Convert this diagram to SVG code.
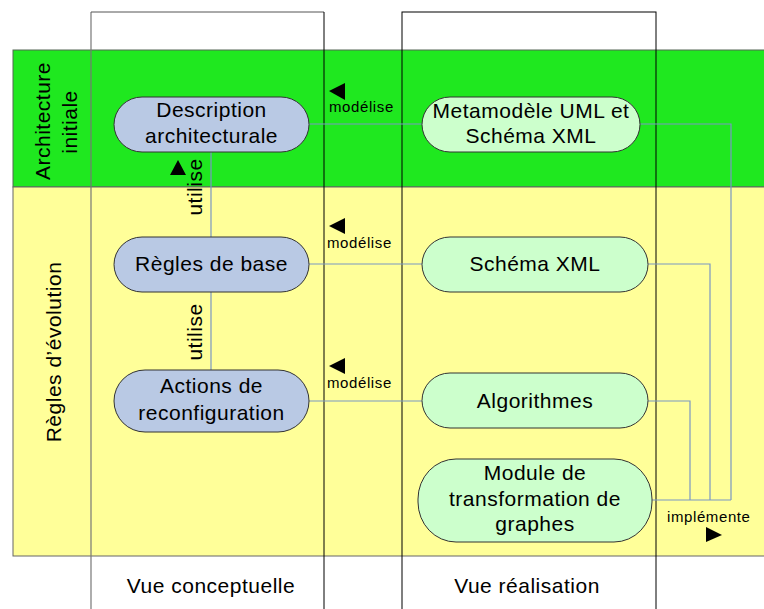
<svg xmlns="http://www.w3.org/2000/svg" width="764" height="609" viewBox="0 0 764 609">
<style>
text{font-family:"Liberation Sans",Arial,sans-serif;fill:#000}
.t{font-size:21px;letter-spacing:0.5px;text-anchor:middle}
.s{font-size:15px;letter-spacing:0.6px}
.blue{fill:#b9c9e4;stroke:#333;stroke-width:1}
.green{fill:#ccffcc;stroke:#333;stroke-width:1}
.c{fill:none;stroke:#7b97c4;stroke-width:1.2}
.col{fill:none;stroke:#000;stroke-width:1}
</style>
<rect id="band-architecture" x="13" y="50" width="760" height="137" fill="#1fe81f" stroke="#556655" stroke-width="1"/>
<rect id="band-regles" x="13" y="187" width="760" height="369" fill="#ffff99" stroke="#666" stroke-width="1"/>
<g id="col-conceptuelle">
<line x1="91" y1="12" x2="91" y2="609" stroke="#777" stroke-width="1.2"/>
<line x1="91" y1="12" x2="324" y2="12" stroke="#555" stroke-width="1"/>
<line x1="324" y1="12" x2="324" y2="609" stroke="#000" stroke-width="1"/>
<text class="t" x="211" y="593">Vue conceptuelle</text>
</g>
<g id="col-realisation">
<rect class="col" x="402" y="12" width="254" height="610"/>
<text class="t" x="527" y="593">Vue réalisation</text>
</g>
<text class="t" transform="translate(50,121) rotate(-90)">Architecture</text>
<text class="t" transform="translate(77,122) rotate(-90)">initiale</text>
<text class="t" transform="translate(61,352) rotate(-90)">Règles d’évolution</text>
<g id="connectors">
<line class="c" x1="309" y1="124" x2="422" y2="124"/>
<line class="c" x1="309" y1="264" x2="422" y2="264"/>
<line class="c" x1="309" y1="401" x2="422" y2="401"/>
<line class="c" x1="211" y1="152" x2="211" y2="237"/>
<line class="c" x1="211" y1="292" x2="211" y2="370"/>
<polyline class="c" points="640,124 731,124 731,500"/>
<polyline class="c" points="648,264 710,264 710,500"/>
<polyline class="c" points="648,401 690,401 690,500"/>
<line class="c" x1="652" y1="500" x2="731" y2="500"/>
<polygon points="329,91 345,83 345,100" fill="#000"/>
<text class="s" x="329" y="112">modélise</text>
<polygon points="329,226 345,218 345,234" fill="#000"/>
<text class="s" x="327" y="248">modélise</text>
<polygon points="329,366 345,358 345,374" fill="#000"/>
<text class="s" x="327" y="388">modélise</text>
<polygon points="178,160 186,175 170,175" fill="#000"/>
<text class="t" transform="translate(202,187) rotate(-90)">utilise</text>
<text class="t" transform="translate(202,332) rotate(-90)">utilise</text>
<text class="s" x="667" y="522">implémente</text>
<polygon points="722,535 706,527 706,542" fill="#000"/>
</g>
<g id="description">
<rect class="blue" x="114" y="97" width="195" height="55" rx="28" ry="27.5"/>
<text class="t" x="211.5" y="117">Description</text>
<text class="t" x="211.5" y="143">architecturale</text>
</g>
<g id="metamodele">
<rect class="green" x="422" y="97" width="218" height="55" rx="28" ry="27.5"/>
<text class="t" x="531" y="118">Metamodèle UML et</text>
<text class="t" x="531" y="143">Schéma XML</text>
</g>
<g id="regles-base">
<rect class="blue" x="114" y="237" width="195" height="55" rx="28" ry="27.5"/>
<text class="t" x="211.5" y="271">Règles de base</text>
</g>
<g id="schema-xml">
<rect class="green" x="422" y="237" width="226" height="55" rx="28" ry="27.5"/>
<text class="t" x="535" y="271">Schéma XML</text>
</g>
<g id="actions">
<rect class="blue" x="114" y="370" width="195" height="62" rx="31" ry="31"/>
<text class="t" x="211.5" y="393">Actions de</text>
<text class="t" x="211.5" y="420">reconfiguration</text>
</g>
<g id="algorithmes">
<rect class="green" x="422" y="373" width="226" height="55" rx="28" ry="27.5"/>
<text class="t" x="535" y="408">Algorithmes</text>
</g>
<g id="module">
<rect class="green" x="418" y="459" width="234" height="83" rx="38" ry="40"/>
<text class="t" x="535" y="480">Module de</text>
<text class="t" x="535" y="506">transformation de</text>
<text class="t" x="535" y="531">graphes</text>
</g>
</svg>
